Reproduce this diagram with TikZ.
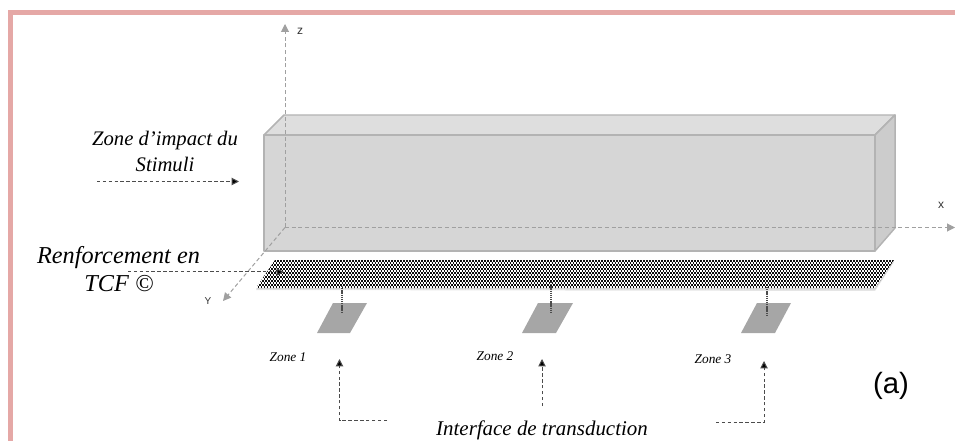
\documentclass[tikz,border=0pt]{standalone}
\usepackage{fontspec}
\setmainfont{Liberation Serif}
\setsansfont{Liberation Sans}
\usetikzlibrary{arrows.meta}
\definecolor{pinkb}{HTML}{E5A8A6}
\definecolor{facegray}{HTML}{D6D6D6}
\definecolor{topgray}{HTML}{DEDEDE}
\definecolor{sidegray}{HTML}{CCCCCC}
\definecolor{edgegray}{HTML}{B3B3B3}
\definecolor{axisgray}{HTML}{A0A0A0}
\definecolor{padgray}{HTML}{A6A6A6}
\tikzset{
  x=0.75pt,y=-0.75pt,
  boxface/.style={draw=edgegray,line width=1.1pt,line join=round},
  axisline/.style={draw=axisgray,line width=0.75pt,dash pattern=on 3pt off 2pt,-{Triangle[length=6pt,width=6pt,fill=axisgray]}},
  callout/.style={draw=black!70,line width=0.75pt,dash pattern=on 2.6pt off 1.8pt},
  calloutarrow/.style={callout,-{Triangle[length=5.5pt,width=5.5pt,fill=black]}},
  dropline/.style={draw=black!70,line width=0.9pt,dash pattern=on 1pt off 0.6pt},
  padshape/.style={fill=padgray,draw=none},
  bigit/.style={font=\itshape\fontsize{15.5pt}{17pt}\selectfont,anchor=center,inner sep=0pt},
  hugeit/.style={font=\itshape\fontsize{18.2pt}{20pt}\selectfont,anchor=center,inner sep=0pt},
  midit/.style={font=\itshape\fontsize{15.7pt}{17pt}\selectfont,anchor=center,inner sep=0pt},
  smallit/.style={font=\itshape\fontsize{10pt}{11pt}\selectfont,anchor=center,inner sep=0pt},
  axislabel/.style={font=\sffamily\fontsize{9pt}{10pt}\selectfont,text=black!80,anchor=center,inner sep=0pt},
}
\begin{document}
\begin{tikzpicture}
\useasboundingbox (0,0) rectangle (955,441);
% frame
\fill[pinkb] (8,10) rectangle (955,15);
\fill[pinkb] (8,10) rectangle (13,441);
% box
\draw[boxface,fill=topgray] (264,135) -- (284,115) -- (895,115) -- (875,135) -- cycle;
\draw[boxface,fill=sidegray] (875,135) -- (895,115) -- (895,228) -- (875,251) -- cycle;
\draw[boxface,fill=facegray] (264,135) rectangle (875,251);
% axes
\coordinate (O) at (285,227.5);
\coordinate (zend) at (285,24);
\coordinate (xend) at (955,227.5);
\coordinate (yend) at (223,301);
\draw[axisline] (O) -- (zend);
\draw[axisline] (O) -- (xend);
\draw[axisline] (O) -- (yend);
\node[axislabel] (zl) at (300,31) {z};
\node[axislabel] (xl) at (941,205) {x};
\node[axislabel,font=\sffamily\fontsize{7.5pt}{8pt}\selectfont] (yl) at (208,301) {Y};
% mesh shadow
\fill[black,opacity=.10] (256,290) -- (275,262) -- (894,262) -- (875,291) -- cycle;
\fill[black,opacity=.12] (256,289) -- (275,261) -- (894,261) -- (875,289.5) -- cycle;
% mesh
\begin{scope}
\clip (256,288) -- (275,260) -- (894,260) -- (875,288) -- cycle;
\fill[white] (250,255) rectangle (900,295);
\foreach \r in {0,...,13}{
  \pgfmathsetmacro{\yy}{260+1+2*\r}
  \pgfmathsetmacro{\ph}{mod(\r,2)*1.125}
  \draw[black!95,line width=1.5pt,dash pattern=on 1.2pt off 1.05pt,dash phase=\ph pt] (250,\yy) -- (900,\yy);
}
\end{scope}
% pads
\path[padshape] (333,303) -- (367,303) -- (350,333) -- (317,333) -- cycle;
\path[padshape] (538,303) -- (573,303) -- (556,333) -- (522,333) -- cycle;
\path[padshape] (757,303) -- (791,303) -- (775,333) -- (741,333) -- cycle;
\coordinate (d1a) at (342,286); \coordinate (d1b) at (342,312);
\coordinate (d2a) at (551,282); \coordinate (d2b) at (551,312);
\coordinate (d3a) at (767,287); \coordinate (d3b) at (767,316);
\draw[dropline] (d1a) -- (d1b);
\draw[dropline] (d2a) -- (d2b);
\draw[dropline] (d3a) -- (d3b);
% callouts
\coordinate (sa) at (97,181.5); \coordinate (sb) at (239,181.5);
\draw[calloutarrow] (sa) -- (sb);
\coordinate (ra) at (128,272); \coordinate (rb) at (284,272);
\draw[calloutarrow] (ra) -- (rb);
\coordinate (a1) at (387,420.5); \coordinate (a1c) at (339.5,420.5); \coordinate (a1e) at (339.5,359);
\draw[calloutarrow] (a1) -- (a1c) -- (a1e);
\coordinate (a2) at (542,406); \coordinate (a2e) at (542,359);
\draw[calloutarrow] (a2) -- (a2e);
\coordinate (a3) at (716,422); \coordinate (a3c) at (764,422); \coordinate (a3e) at (764,361);
\draw[calloutarrow] (a3) -- (a3c) -- (a3e);
% labels
\node[bigit] (t1) at (165,141) {Zone d’impact du};
\node[bigit] (t2) at (165,164) {Stimuli};
\node[hugeit] (t3) at (118.5,258) {Renforcement en};
\node[hugeit] (t4) at (119,284) {TCF ©};
\node[smallit] (z1) at (288,357) {Zone 1};
\node[smallit] (z2) at (495,356) {Zone 2};
\node[smallit] (z3) at (713,359) {Zone 3};
\node[midit] (t5) at (542,430) {Interface de transduction};
\node[font=\sffamily\fontsize{22pt}{24pt}\selectfont,anchor=center,inner sep=0pt] (lab) at (891,386) {(a)};
\end{tikzpicture}
\end{document}
